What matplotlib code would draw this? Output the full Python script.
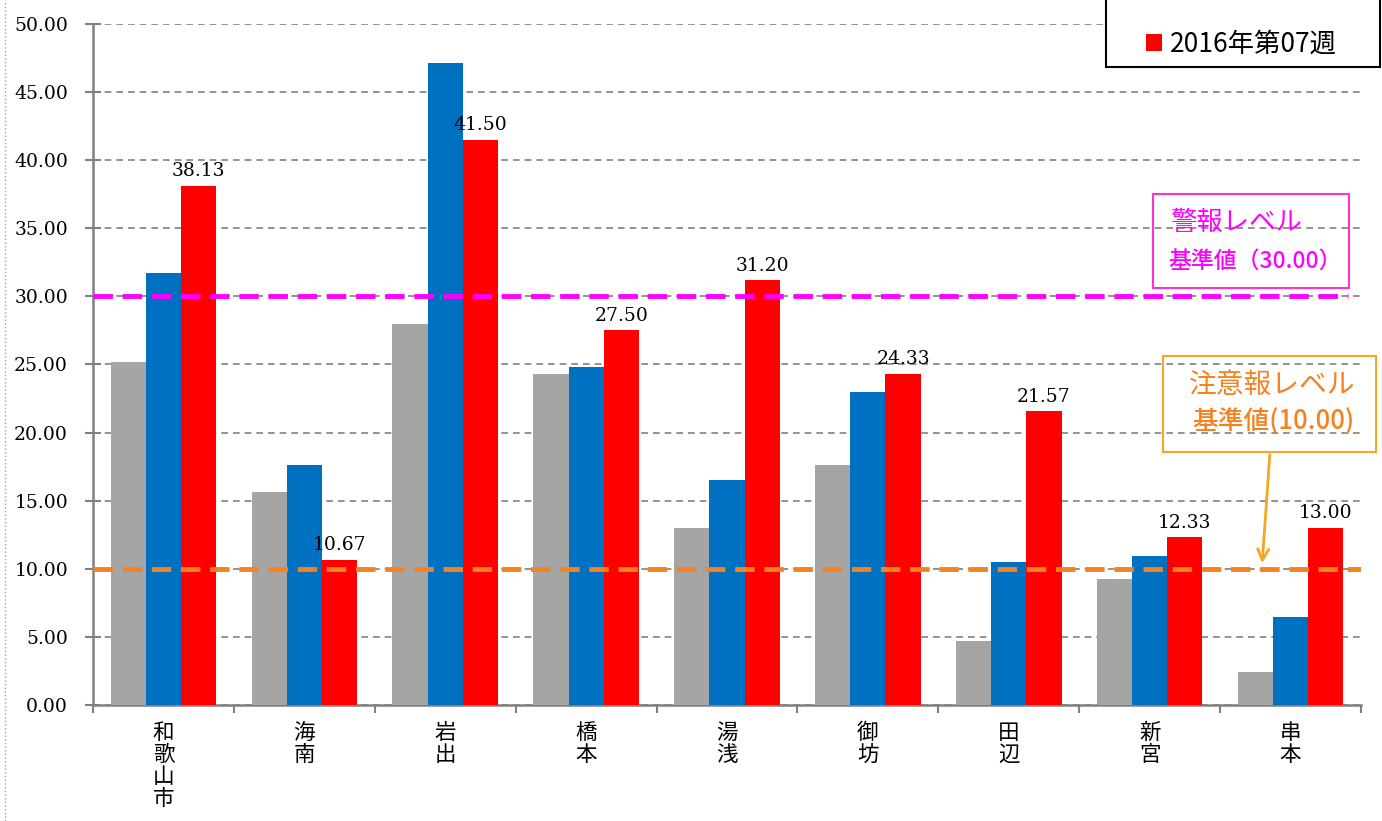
import numpy as np
import matplotlib.pyplot as plt
from matplotlib.patches import Rectangle

plt.rcParams['font.family'] = ['Noto Sans CJK JP', 'DejaVu Sans']

# データ
areas = ['和歌山市', '海南', '岩出', '橋本', '湯浅', '御坊', '田辺', '新宮', '串本']
wk05 = [25.18, 15.64, 27.97, 24.30, 13.00, 17.62, 4.70, 9.25, 2.42]
wk06 = [31.72, 17.62, 47.14, 24.82, 16.52, 22.98, 10.50, 10.94, 6.46]
wk07 = [38.13, 10.67, 41.50, 27.50, 31.20, 24.33, 21.57, 12.33, 13.00]
series_labels = ['2016年第05週', '2016年第06週', '2016年第07週']
warn_level = 30.0
caution_level = 10.0

fig = plt.figure(figsize=(13.82, 8.21), dpi=100)
ax = fig.add_axes([0.0673, 0.1413, 0.9175, 0.8295])

x = np.arange(len(areas))
w = 0.25
ax.bar(x - w, wk05, w, color='#A5A5A5', label=series_labels[0], zorder=3)
ax.bar(x, wk06, w, color='#0070C0', label=series_labels[1], zorder=3)
ax.bar(x + w, wk07, w, color='#FF0000', label=series_labels[2], zorder=3)

# 赤棒の値ラベル
for xi, v in zip(x + w, wk07):
    ax.text(xi, v + 0.4, '%.2f' % v, ha='center', va='bottom',
            fontsize=13.5, family='DejaVu Serif', zorder=5)

ax.set_xlim(-0.5, len(areas) - 0.5)
ax.set_ylim(0, 50)
ax.set_yticks(np.arange(0, 50.1, 5))
ax.set_yticklabels(['%.2f' % t for t in np.arange(0, 50.1, 5)],
                   family='DejaVu Serif', fontsize=13.5)
ax.yaxis.grid(True, linestyle=(0, (4, 3)), color='#808080', linewidth=1.2, zorder=0)

ax.set_xticks(np.arange(-0.5, len(areas), 1))
ax.set_xticklabels([])
ax.set_xticks(x, minor=True)
ax.set_xticklabels(['\n'.join(a) for a in areas], minor=True, fontsize=15.5,
                   linespacing=1.0, va='top')
ax.tick_params(axis='x', which='minor', length=0, pad=12)
ax.tick_params(axis='x', which='major', length=6, color='#808080', width=1.5)
ax.tick_params(axis='y', direction='inout', length=12, color='#808080', width=1.5, pad=12)

for s in ['top', 'right']:
    ax.spines[s].set_visible(False)
for s in ['left', 'bottom']:
    ax.spines[s].set_color('#808080')
    ax.spines[s].set_linewidth(1.8)

# 基準線
ax.axhline(warn_level, xmin=0, xmax=0.99, color='#FF00FF', linestyle=(0, (4, 2)),
           linewidth=3.5, zorder=4)
ax.axhline(caution_level, color='#F5821F', linestyle=(0, (4, 2)),
           linewidth=3.5, zorder=4)

# 警報レベルの注記
fig.patches.append(Rectangle((1153 / 1382, 1 - 288 / 821), 196 / 1382, 94 / 821,
                             transform=fig.transFigure, fill=False,
                             edgecolor='#FF33CC', linewidth=1.5))
fig.text(1170 / 1382, 1 - 222 / 821, '警報レベル', color='#FF00FF', fontsize=19,
         va='center', ha='left')
fig.text(1168 / 1382, 1 - 262 / 821, '基準値（30.00）', color='#FF00FF', fontsize=16.5,
         va='center', ha='left', fontweight='medium')

# 注意報レベルの注記
fig.patches.append(Rectangle((1163 / 1382, 1 - 452 / 821), 213 / 1382, 96 / 821,
                             transform=fig.transFigure, fill=False,
                             edgecolor='#F5A623', linewidth=1.5))
fig.text(1272 / 1382, 1 - 385 / 821, '注意報レベル', color='#F5821F', fontsize=20,
         va='center', ha='center')
fig.text(1273 / 1382, 1 - 422 / 821, '基準値(10.00)', color='#F5821F', fontsize=18.5,
         va='center', ha='center', fontweight='medium')
ax.annotate('', xy=(1262 / 1382, 1 - 566 / 821), xycoords='figure fraction',
            xytext=(1270 / 1382, 1 - 452 / 821), textcoords='figure fraction',
            arrowprops=dict(arrowstyle='->', color='#F5A623', lw=2,
                            mutation_scale=20))

# 凡例（上部は図外に切れている）
fig.patches.append(Rectangle((1106 / 1382, 1 - 67 / 821), 274 / 1382, 0.2,
                             transform=fig.transFigure, facecolor='white',
                             edgecolor='black', linewidth=1.5, zorder=5))
leg = fig.legend(loc='lower left', bbox_to_anchor=(1146 / 1382, 1 - 58 / 821),
                 fontsize=19, frameon=False,
                 handlelength=0.6, handleheight=0.6, handletextpad=0.3,
                 labelspacing=1.25, borderpad=0, borderaxespad=0)
leg.set_zorder(6)

# 左端の点線枠
fig.add_artist(plt.Line2D([5 / 1382, 5 / 1382], [0, 1], transform=fig.transFigure,
                          color='#A0A0A0', linestyle=':', linewidth=1))

fig.savefig('out.png', dpi=100)
